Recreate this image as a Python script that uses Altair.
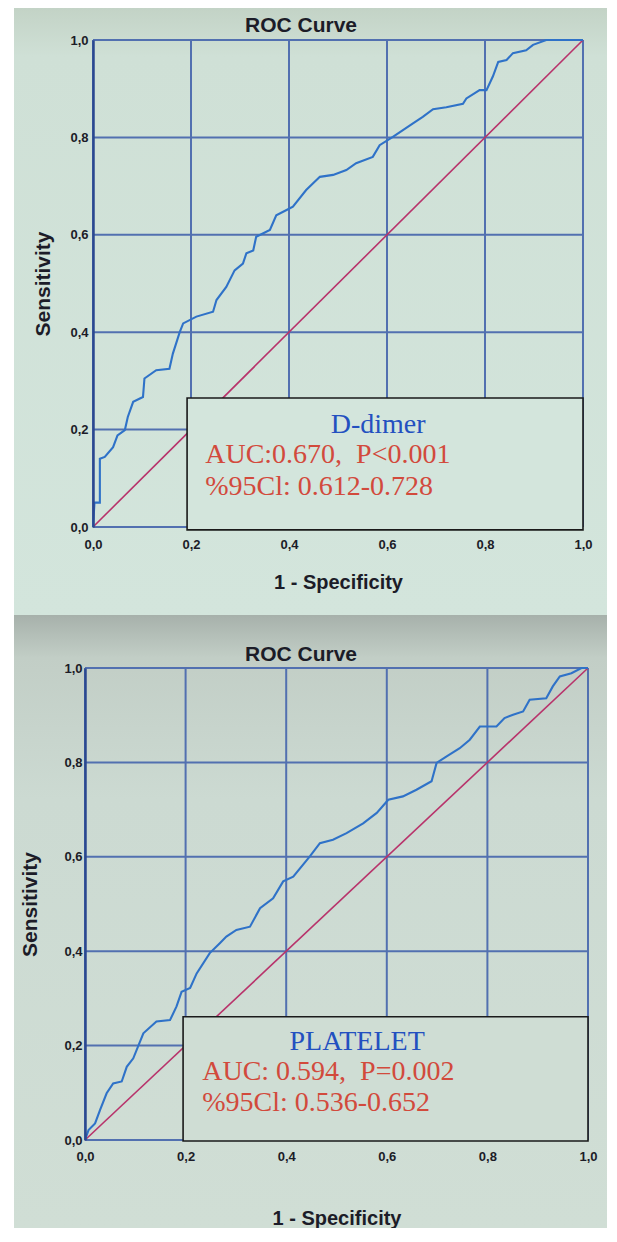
import altair as alt
import pandas as pd

# ---------------- data ----------------
ddimer_fpr = [0.000, 0.003, 0.014, 0.014, 0.024, 0.041, 0.050, 0.065, 0.071, 0.082,
              0.102, 0.105, 0.129, 0.156, 0.163, 0.177, 0.184, 0.211, 0.245, 0.252,
              0.272, 0.289, 0.306, 0.313, 0.327, 0.333, 0.361, 0.374, 0.395, 0.408,
              0.435, 0.463, 0.490, 0.517, 0.537, 0.571, 0.585, 0.612, 0.653, 0.673,
              0.694, 0.721, 0.755, 0.762, 0.789, 0.803, 0.816, 0.827, 0.844, 0.857,
              0.884, 0.898, 0.925, 1.000]
ddimer_tpr = [0.000, 0.050, 0.050, 0.140, 0.144, 0.164, 0.188, 0.199, 0.226, 0.257,
              0.267, 0.305, 0.322, 0.325, 0.356, 0.400, 0.418, 0.432, 0.442, 0.466,
              0.493, 0.527, 0.541, 0.562, 0.568, 0.596, 0.610, 0.640, 0.651, 0.658,
              0.692, 0.719, 0.723, 0.733, 0.747, 0.760, 0.784, 0.801, 0.829, 0.842,
              0.858, 0.862, 0.869, 0.880, 0.897, 0.897, 0.925, 0.955, 0.959, 0.973,
              0.979, 0.990, 1.000, 1.000]

platelet_fpr = [0.000, 0.007, 0.020, 0.030, 0.043, 0.056, 0.073, 0.083, 0.096, 0.116,
                0.142, 0.169, 0.182, 0.192, 0.209, 0.222, 0.248, 0.268, 0.281, 0.301,
                0.328, 0.348, 0.374, 0.394, 0.414, 0.447, 0.467, 0.493, 0.520, 0.553,
                0.580, 0.603, 0.632, 0.659, 0.689, 0.699, 0.719, 0.745, 0.765, 0.785,
                0.818, 0.834, 0.851, 0.871, 0.884, 0.917, 0.930, 0.944, 0.967, 0.987,
                1.000]
platelet_tpr = [0.000, 0.021, 0.035, 0.064, 0.099, 0.120, 0.124, 0.155, 0.173, 0.226,
                0.251, 0.254, 0.283, 0.314, 0.322, 0.353, 0.396, 0.417, 0.431, 0.445,
                0.452, 0.491, 0.512, 0.548, 0.558, 0.601, 0.629, 0.636, 0.650, 0.671,
                0.693, 0.721, 0.728, 0.742, 0.760, 0.799, 0.813, 0.830, 0.848, 0.876,
                0.876, 0.894, 0.901, 0.908, 0.933, 0.936, 0.961, 0.982, 0.989, 1.000,
                1.000]

reference_line = [0.0, 1.0]
tick_values = [0.0, 0.2, 0.4, 0.6, 0.8, 1.0]

chart_title = "ROC Curve"
x_title = "1 - Specificity"
y_title = "Sensitivity"

NB = "\u00a0"
ddimer_lines = ["D-dimer", "AUC:0.670," + NB + " P<0.001", "%95Cl: 0.612-0.728"]
platelet_lines = ["PLATELET", "AUC: 0.594," + NB + " P=0.002", "%95Cl: 0.536-0.652"]

# ---------------- styles ----------------
SANS = "Liberation Sans"
SERIF = "Liberation Serif"
CURVE = "#2f72c8"
DIAG = "#b8336b"
GRID = "#5270b0"
AXISLINE = "#2b4890"
TXT_BLUE = "#2350c0"
TXT_RED = "#d24a3c"
INK = "#1c1c28"
LABELS = "replace(format(datum.value, '.1f'), '.', ',')"


def gradient(stops):
    return alt.Gradient(
        gradient="linear", x1=0, x2=0, y1=0, y2=1,
        stops=[alt.GradientStop(color=c, offset=o) for o, c in stops],
    )


def panel(fpr, tpr, lines, w, h, x_range, y_offset, bg_box, bg_stops, box_fill, box,
          name_xy, text_x, auc_y, ci_y, title_xy, ylp, ytp, xlp, xtp):
    scx = alt.Scale(domain=[0, 1], nice=False, zero=False, range=x_range)
    scy = alt.Scale(domain=[0, 1], nice=False, zero=False)
    ax_x = alt.Axis(values=tick_values, labelExpr=LABELS, grid=False, ticks=False,
                    domain=False, labelPadding=xlp, titlePadding=xtp,
                    titleFontSize=20, labelFlush=False, zindex=1)
    ax_y = alt.Axis(values=tick_values, labelExpr=LABELS, grid=False, ticks=False,
                    domain=True, domainColor=AXISLINE, domainWidth=2.5,
                    labelPadding=ylp, titlePadding=ytp, titleFontSize=21,
                    labelFlush=False, offset=y_offset, zindex=1)

    def X(f):
        return alt.X(f, type="quantitative", scale=scx, axis=ax_x, title=x_title)

    def Y(f):
        return alt.Y(f, type="quantitative", scale=scy, axis=ax_y, title=y_title)

    def XD(v):
        return alt.X(datum=v, scale=scx, axis=ax_x, title=x_title)

    def YD(v):
        return alt.Y(datum=v, scale=scy, axis=ax_y, title=y_title)

    one = pd.DataFrame({"k": [0]})

    background = alt.Chart(one).mark_rect(fill=gradient(bg_stops)).encode(
        x=alt.value(bg_box[0]), x2=alt.value(bg_box[1]),
        y=alt.value(bg_box[2]), y2=alt.value(bg_box[3]),
    )
    vgrid = alt.Chart(pd.DataFrame({"x": tick_values})).mark_rule(
        color=GRID, strokeWidth=2).encode(x=X("x"))
    hgrid = alt.Chart(pd.DataFrame({"y": tick_values})).mark_rule(
        color=GRID, strokeWidth=2).encode(y=Y("y"), x=XD(0.0), x2=alt.datum(1.0))
    diag = alt.Chart(pd.DataFrame({"x": reference_line, "y": reference_line})).mark_line(
        color=DIAG, strokeWidth=1.6).encode(x=X("x"), y=Y("y"))
    curve = alt.Chart(pd.DataFrame({"x": fpr, "y": tpr, "o": range(len(fpr))})).mark_line(
        color=CURVE, strokeWidth=2.1).encode(x=X("x"), y=Y("y"), order="o:Q")
    boxmark = alt.Chart(one).mark_rect(fill=box_fill, stroke="#1a1a1a", strokeWidth=1.6).encode(
        x=XD(box[0]), x2=alt.datum(box[1]), y=YD(box[2]), y2=alt.datum(box[3]),
    )
    name = alt.Chart(one).mark_text(
        text=lines[0], font=SERIF, fontSize=28, color=TXT_BLUE, align="center",
        baseline="middle").encode(x=XD(name_xy[0]), y=YD(name_xy[1]))
    auc = alt.Chart(one).mark_text(
        text=lines[1], font=SERIF, fontSize=28, color=TXT_RED, align="left",
        baseline="middle").encode(x=XD(text_x), y=YD(auc_y))
    ci = alt.Chart(one).mark_text(
        text=lines[2], font=SERIF, fontSize=28, color=TXT_RED, align="left",
        baseline="middle").encode(x=XD(text_x), y=YD(ci_y))
    title = alt.Chart(one).mark_text(
        text=chart_title, font=SANS, fontSize=21, fontWeight="bold", color=INK,
        align="center", baseline="middle").encode(
        x=alt.value(title_xy[0]), y=alt.value(title_xy[1]))

    return alt.layer(background, vgrid, hgrid, diag, curve, boxmark, name, auc, ci, title
                     ).properties(width=w, height=h)


# both panels share the same group origin (page x = 93); the lower plot starts 8px further left
top = panel(ddimer_fpr, ddimer_tpr, ddimer_lines, 490, 487,
            x_range=[0, 490], y_offset=0,
            bg_box=(-79, 514, -32, 575),
            bg_stops=[(0, "#c3d3c6"), (0.08, "#cfe0d6"), (1, "#d3e5dc")],
            box_fill="#d3e5dc",
            box=(0.192, 1.0, 0.265, -0.006), name_xy=(0.582, 0.209),
            text_x=0.229, auc_y=0.148, ci_y=0.082, title_xy=(208, -14),
            ylp=5, ytp=16, xlp=11, xtp=21)

bottom = panel(platelet_fpr, platelet_tpr, platelet_lines, 495, 472,
               x_range=[-8, 495], y_offset=8,
               bg_box=(-79, 514, -53, 560),
               bg_stops=[(0, "#a7b1ab"), (0.07, "#c2cec6"), (0.3, "#ccdad2"), (1, "#d0ded5")],
               box_fill="#cfddd4",
               box=(0.195, 1.0, 0.261, -0.002), name_xy=(0.541, 0.208),
               text_x=0.233, auc_y=0.144, ci_y=0.078, title_xy=(208, -13),
               ylp=3, ytp=23, xlp=10, xtp=45)

chart = alt.vconcat(top, bottom, spacing=0).properties(
    padding={"left": 6, "top": 0, "right": 0, "bottom": 0},
    background="white",
).configure_view(stroke=None).configure_axis(
    labelFont=SANS, labelFontSize=13, labelFontWeight="bold", labelColor=INK,
    titleFont=SANS, titleFontWeight="bold", titleColor=INK,
)

chart.save("out.html", embed_options={"renderer": "svg", "actions": False})
